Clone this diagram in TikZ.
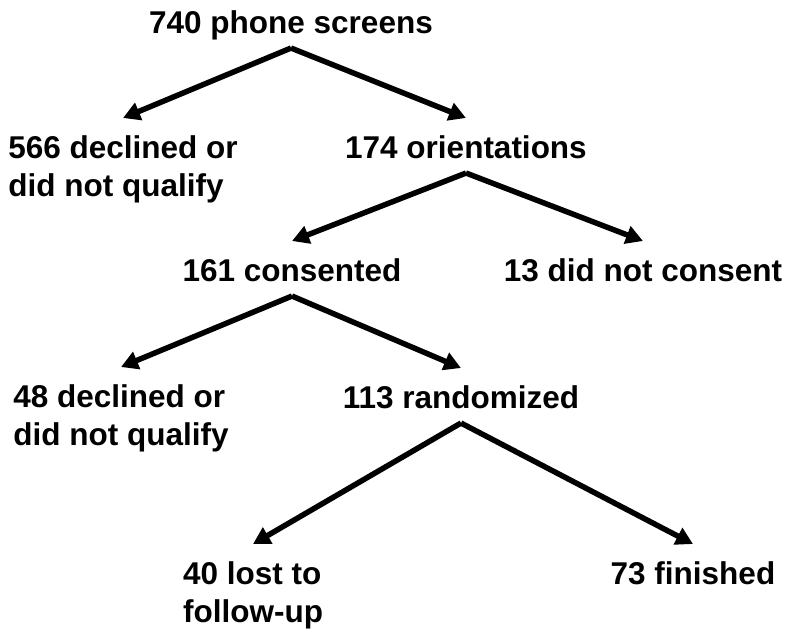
\documentclass[tikz,border=0pt]{standalone}
\usepackage{fontspec}
\setmainfont{Liberation Sans}
\usepackage{tikz}
\usetikzlibrary{arrows.meta}

\begin{document}
\begin{tikzpicture}[x=1pt, y=-1pt,
    every node/.style={font=\bfseries\fontsize{31.5}{38}\selectfont, inner sep=0pt, align=left, anchor=north},
    arr/.style={line width=5.5pt, -{Triangle[length=17pt,width=18pt]}}]
                        \useasboundingbox (0,0) rectangle (788,630);
                        \node (screens) at (291,10) {740 phone screens};
                        \node (declA) at (123,135) {566 declined or\\did not qualify};
                        \node (orient) at (466,135) {174 orientations};
                        \node (consent) at (292,258) {161 consented};
                        \node (nocons) at (643,258) {13 did not consent};
                        \node (declB) at (121,384) {48 declined or\\did not qualify};
                        \node (rand) at (461,385) {113 randomized};
                        \node (lost) at (253,561) {40 lost to\\follow-up};
                        \node (fin) at (693,561) {73 finished};
                        \foreach \from/\to in {screens/declA, screens/orient, orient/consent, orient/nocons,
                                               consent/declB, consent/rand, rand/lost, rand/fin}
                        \draw[arr] ([yshift=-15pt]\from.base) -- ([yshift=17pt]\to.north);
                    \end{tikzpicture}
\end{document}
